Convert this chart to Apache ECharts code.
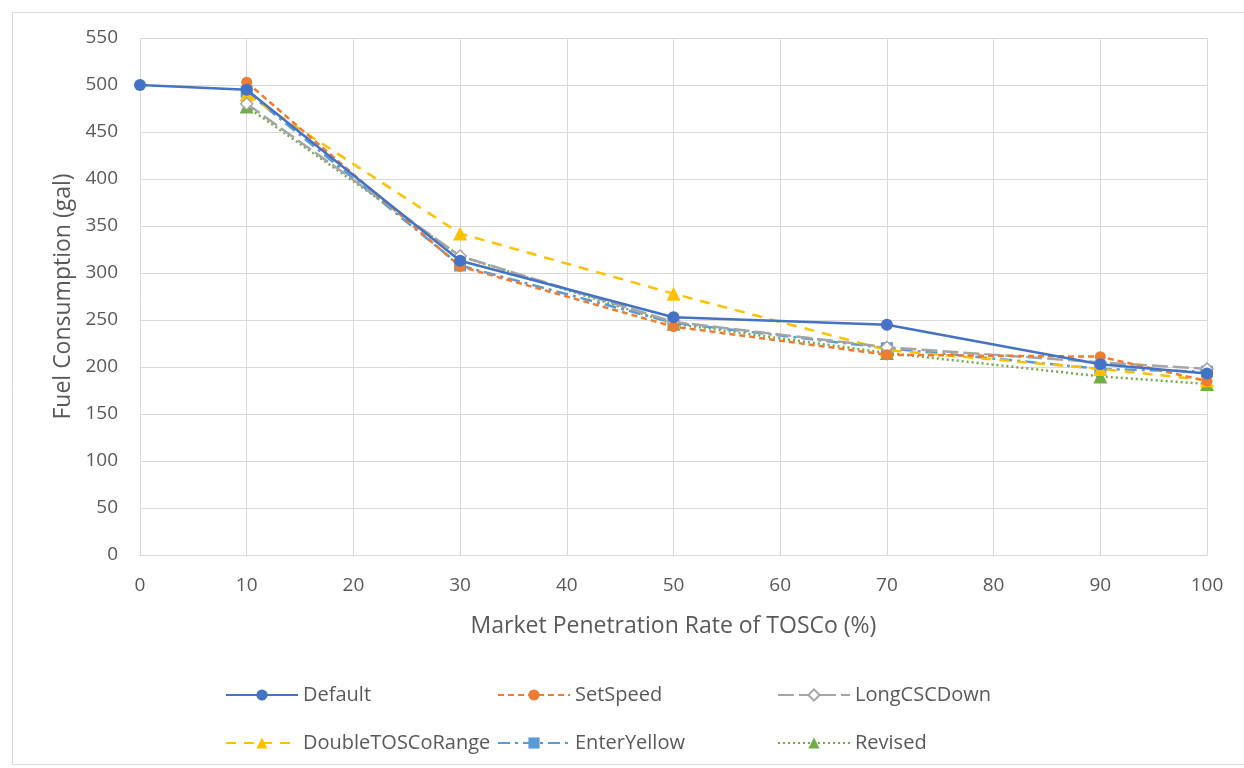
<!DOCTYPE html>
<html>
<head>
<meta charset="utf-8">
<script src="https://cdn.jsdelivr.net/npm/echarts@6/dist/echarts.min.js"></script>
<style>
html,body{margin:0;padding:0;background:#fff;}
#chart{width:1244px;height:768px;}
</style>
</head>
<body>
<div id="chart"></div>
<script>
const xValues = [0, 10, 30, 50, 70, 90, 100];
const seriesNames = ['Default', 'SetSpeed', 'LongCSCDown', 'DoubleTOSCoRange', 'EnterYellow', 'Revised'];
const defaultVals = [500, 495, 313, 253, 245, 203, 193];
const setSpeedVals = [null, 503, 307, 243, 213, 211, 185];
const longCSCDownVals = [null, 480, 318, 248, 221, 205, 198];
const doubleTOSCoRangeVals = [null, 490, 342, 278, 218, 198, 186];
const enterYellowVals = [null, 493, 308, 247, 220, 198, 195];
const revisedVals = [null, 477, 318, 246, 215, 190, 182];

const pair = vals => vals.map((v, i) => [xValues[i], v === null ? '-' : v]);
const styles = [
  {color: '#4472C4', type: 'solid', symbol: 'circle', size: 12},
  {color: '#ED7D31', type: [6, 4], symbol: 'circle', size: 11},
  {color: '#A5A5A5', type: [16, 5], symbol: 'diamond', size: 12, hollow: true},
  {color: '#FFC000', type: [10, 8], symbol: 'triangle', size: 14},
  {color: '#5B9BD5', type: [12, 5, 3, 5], symbol: 'rect', size: 12},
  {color: '#70AD47', type: [2, 3], symbol: 'triangle', size: 14}
];
const dataSets = [defaultVals, setSpeedVals, longCSCDownVals, doubleTOSCoRangeVals, enterYellowVals, revisedVals];

const series = seriesNames.map((name, i) => {
  const s = styles[i];
  return {
    name: name,
    type: 'line',
    data: pair(dataSets[i]),
    symbol: s.symbol,
    symbolSize: s.size,
    showAllSymbol: true,
    lineStyle: {color: s.color, width: 2.5, type: s.type},
    itemStyle: s.hollow ? {color: '#fff', borderColor: s.color, borderWidth: 1.5} : {color: s.color, borderColor: s.color, borderWidth: 0},
    z: 10 - i
  };
});

const legendPos = [
  {left: 220, top: 680},
  {left: 492, top: 680},
  {left: 772, top: 680},
  {left: 220, top: 728},
  {left: 492, top: 728},
  {left: 772, top: 728}
];
const legends = seriesNames.map((name, i) => ({
  data: [name],
  left: legendPos[i].left,
  top: legendPos[i].top,
  itemWidth: 72,
  itemHeight: 14,
  textStyle: {color: '#595959', fontSize: 20, fontFamily: 'Open Sans'},
  selectedMode: false
}));

const chart = echarts.init(document.getElementById('chart'), null, {renderer: 'canvas'});
chart.setOption({
  animation: false,
  backgroundColor: '#fff',
  graphic: [{
    type: 'rect', left: 10, top: 10,
    shape: {width: 1240, height: 752},
    style: {fill: 'none', stroke: '#D9D9D9', lineWidth: 1},
    silent: true, z: -1
  }],
  grid: {left: 140, right: 37, top: 38, bottom: 213},
  legend: legends,
  xAxis: {
    type: 'value', min: 0, max: 100, interval: 10,
    name: 'Market Penetration Rate of TOSCo (%)',
    nameLocation: 'middle', nameGap: 60,
    nameTextStyle: {color: '#595959', fontSize: 23, fontFamily: 'Open Sans'},
    axisLine: {show: true, lineStyle: {color: '#D9D9D9', width: 1}},
    axisTick: {show: false},
    axisLabel: {color: '#595959', fontSize: 19, fontFamily: 'Open Sans', margin: 21},
    splitLine: {show: true, lineStyle: {color: '#D9D9D9', width: 1}}
  },
  yAxis: {
    type: 'value', min: 0, max: 550, interval: 50,
    name: 'Fuel Consumption (gal)',
    nameLocation: 'middle', nameGap: 64,
    nameTextStyle: {color: '#595959', fontSize: 23, fontFamily: 'Open Sans'},
    axisLine: {show: false},
    axisTick: {show: false},
    axisLabel: {color: '#595959', fontSize: 19, fontFamily: 'Open Sans', margin: 22},
    splitLine: {show: true, lineStyle: {color: '#D9D9D9', width: 1}}
  },
  series: series
});
</script>
</body>
</html>
